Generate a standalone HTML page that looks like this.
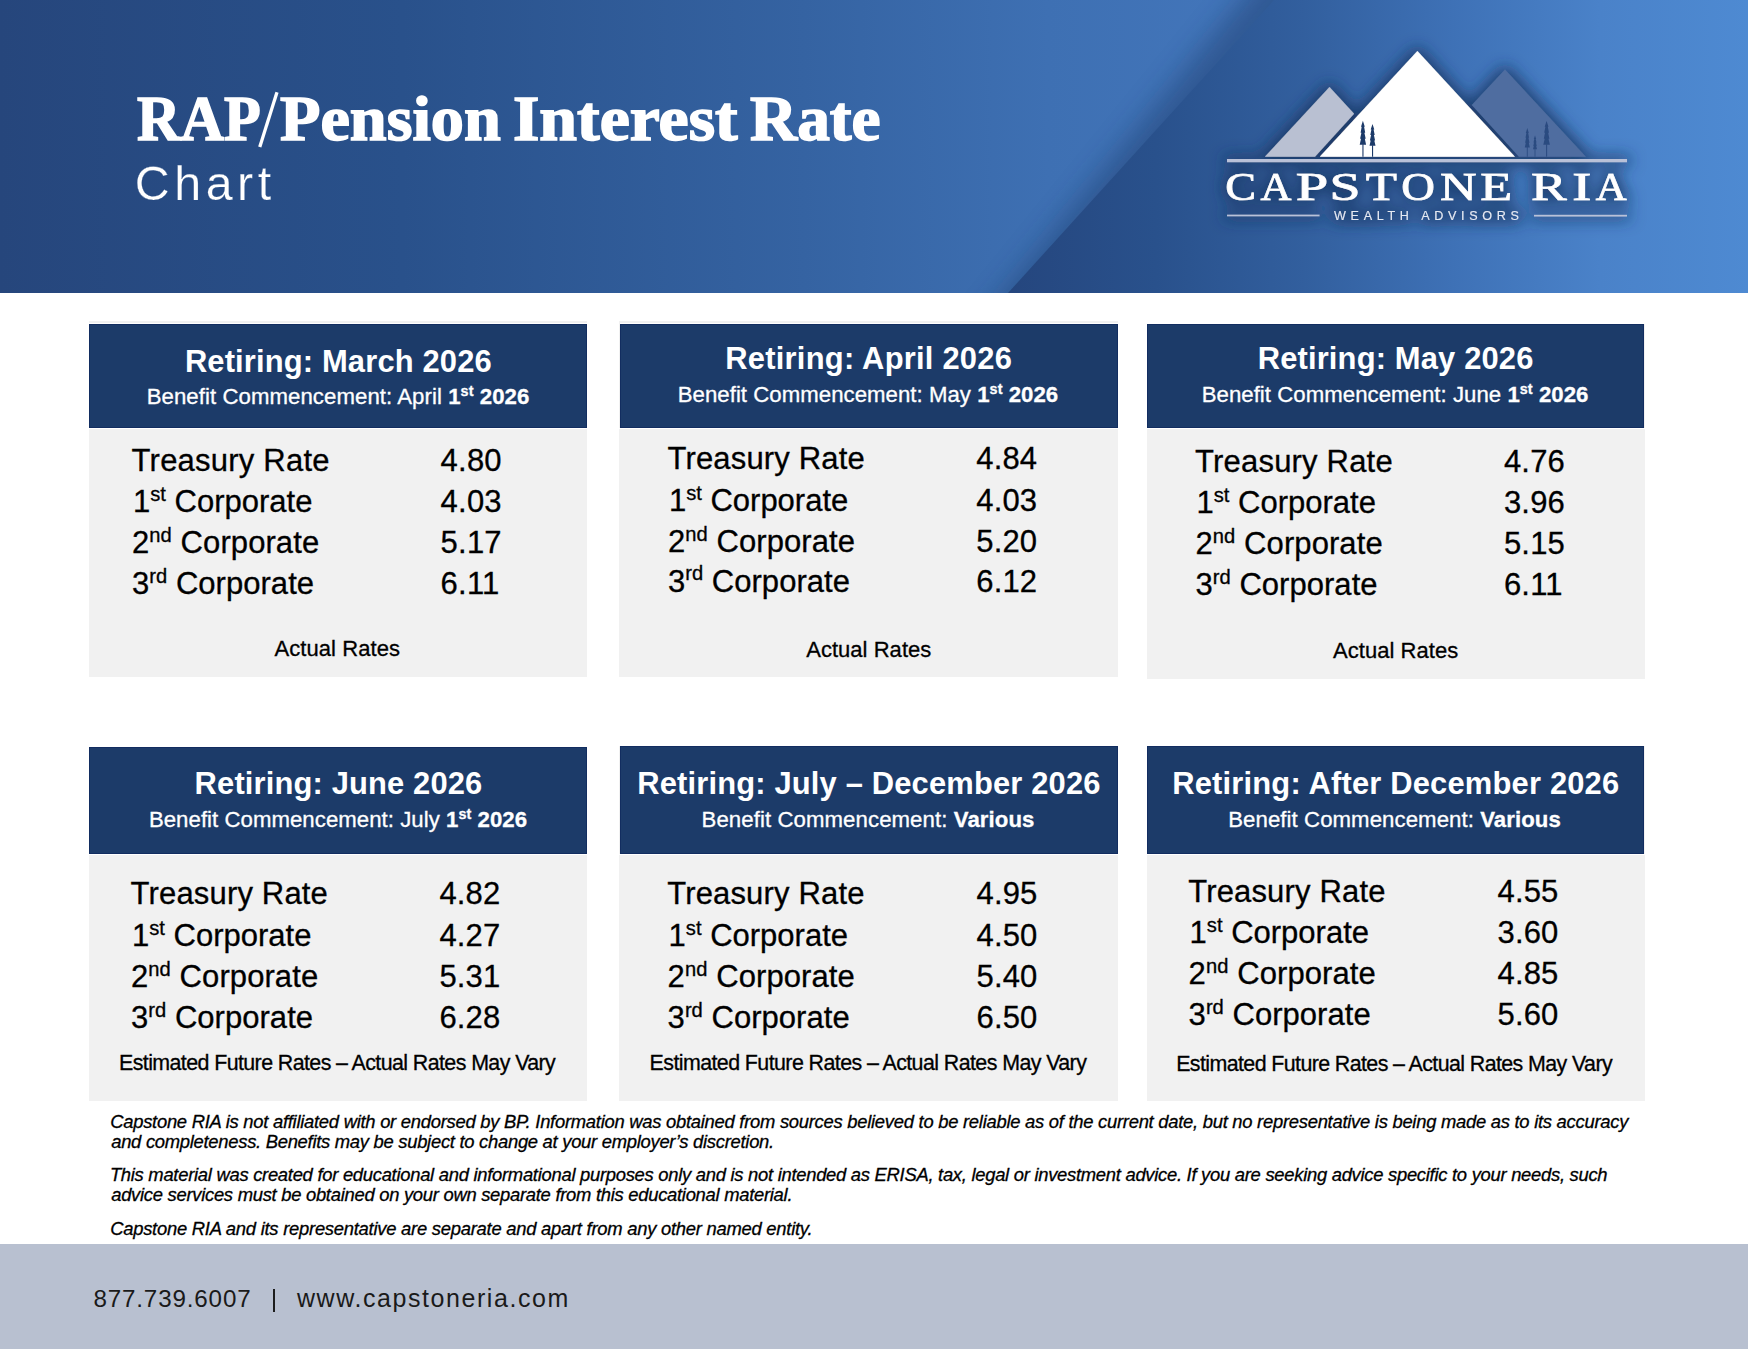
<!DOCTYPE html>
<html><head><meta charset="utf-8"><title>RAP/Pension Interest Rate Chart</title>
<style>
html,body{margin:0;padding:0;}
body{width:1748px;height:1349px;position:relative;overflow:hidden;background:#fff;font-family:"Liberation Sans",sans-serif;color:#000;}
.abs{position:absolute;}
.t{position:absolute;white-space:nowrap;margin:0;padding:0;transform-origin:0 0;-webkit-text-stroke:0.3px currentColor;}
.blue{position:absolute;background:#1c3b69;box-shadow:inset 0 0 0 1px #122d60;}
.gray{position:absolute;background:#f1f1f1;}
.wline{position:absolute;background:#fff;height:1px;}
sup{font-size:65%;vertical-align:baseline;position:relative;top:-0.55em;line-height:0;}
.ht{color:#fff;font-weight:bold;-webkit-text-stroke:0;}
.hs{color:#fff;}
.hs b{font-weight:bold;}
.disc{font-style:italic;}
.serif{font-family:"Liberation Serif",serif;}
.w{color:#fff;}
.ft{color:#1a1a1a;-webkit-text-stroke:0;}
</style></head>
<body>
<svg class="abs" style="left:0;top:0" width="1748" height="293" viewBox="0 0 1748 293">
<defs>
<linearGradient id="gL" x1="0" y1="0" x2="1748" y2="0" gradientUnits="userSpaceOnUse">
<stop offset="0" stop-color="#26467c"/><stop offset="0.23" stop-color="#29518b"/><stop offset="0.46" stop-color="#3563a2"/><stop offset="0.60" stop-color="#3e70b3"/><stop offset="0.72" stop-color="#4376bb"/><stop offset="1" stop-color="#4376bb"/>
</linearGradient>
<linearGradient id="gR" x1="1008" y1="0" x2="1748" y2="0" gradientUnits="userSpaceOnUse">
<stop offset="0" stop-color="#25467e"/><stop offset="0.2" stop-color="#29518c"/><stop offset="0.4" stop-color="#325f9e"/><stop offset="0.6" stop-color="#3e71b6"/><stop offset="0.8" stop-color="#4a82c9"/><stop offset="1" stop-color="#4e8ad2"/>
</linearGradient>
<filter id="blur14" x="-20%" y="-20%" width="140%" height="140%"><feGaussianBlur stdDeviation="14"/></filter>
<filter id="blur6" x="-20%" y="-30%" width="140%" height="160%"><feGaussianBlur stdDeviation="7"/></filter>
<filter id="glow" x="1180" y="10" width="500" height="260" filterUnits="userSpaceOnUse">
<feMorphology in="SourceAlpha" operator="dilate" radius="3" result="d"/>
<feGaussianBlur in="d" stdDeviation="7.5" result="b"/>
<feFlood flood-color="#17335f" flood-opacity="0.8" result="f"/>
<feComposite in="f" in2="b" operator="in" result="g"/>
<feMerge><feMergeNode in="g"/><feMergeNode in="SourceGraphic"/></feMerge>
</filter>
<clipPath id="hc"><rect x="0" y="0" width="1748" height="293"/></clipPath>
</defs>
<rect x="0" y="0" width="1748" height="293" fill="url(#gL)"/>
<g clip-path="url(#hc)">
<polygon points="1274,-40 1800,-40 1800,340 965,340" fill="#17325f" opacity="0.42" filter="url(#blur14)"/>
<polygon points="1274,0 1748,0 1748,293 1008,293" fill="url(#gR)"/>
<g filter="url(#glow)">
<polygon points="1264.9,156.7 1329.5,87.1 1354.1,113.8 1315,156.7" fill="#b9c0d2"/>
<polygon points="1505,69.4 1585.9,156.7 1519,156.7 1471.8,105" fill="#4f6da0"/>
<polygon points="1417.4,51.1 1514.9,156.7 1319.8,156.7" fill="#ffffff"/>
<rect x="1227" y="159" width="400" height="3.2" fill="#b9c1d8"/>
<rect x="1227" y="214.7" width="92.5" height="1.6" fill="#b9c1d8"/>
<rect x="1534" y="214.9" width="93" height="1.6" fill="#b9c1d8"/>
<polygon points="1362.9,120.7 1364.8,126.7 1364.1,126.7 1365.2,132.7 1364.4,132.7 1365.7,138.7 1364.8,138.7 1366.1,144.7 1359.7,144.7 1361.0,138.7 1360.1,138.7 1361.4,132.7 1360.6,132.7 1361.7,126.7 1361.0,126.7 1362.9,120.7" fill="#1f3a69"/><rect x="1362.4" y="144.2" width="1.1" height="12.5" fill="#1f3a69"/>
<polygon points="1372.5,124.1 1374.3,129.5 1373.6,129.5 1374.7,134.9 1373.9,134.9 1375.1,140.4 1374.3,140.4 1375.5,145.8 1369.5,145.8 1370.7,140.4 1369.9,140.4 1371.1,134.9 1370.3,134.9 1371.4,129.5 1370.7,129.5 1372.5,124.1" fill="#1f3a69"/><rect x="1372.0" y="145.3" width="1.1" height="11.4" fill="#1f3a69"/>
<polygon points="1527.3,128.1 1528.8,132.9 1528.2,132.9 1529.1,137.8 1528.5,137.8 1529.5,142.7 1528.8,142.7 1529.8,147.5 1524.8,147.5 1525.8,142.7 1525.1,142.7 1526.1,137.8 1525.5,137.8 1526.4,132.9 1525.8,132.9 1527.3,128.1" fill="#2c4b80"/><rect x="1526.8" y="147.0" width="0.9" height="9.7" fill="#2c4b80"/>
<polygon points="1535.0,135.5 1536.2,138.9 1535.7,138.9 1536.5,142.4 1536.0,142.4 1536.7,145.9 1536.2,145.9 1537.0,149.3 1533.0,149.3 1533.8,145.9 1533.3,145.9 1534.0,142.4 1533.5,142.4 1534.3,138.9 1533.8,138.9 1535.0,135.5" fill="#2c4b80"/><rect x="1534.6" y="148.8" width="0.8" height="7.9" fill="#2c4b80"/>
<polygon points="1546.6,120.9 1548.5,126.8 1547.8,126.8 1549.0,132.8 1548.2,132.8 1549.4,138.8 1548.5,138.8 1549.9,144.7 1543.3,144.7 1544.7,138.8 1543.8,138.8 1545.0,132.8 1544.2,132.8 1545.4,126.8 1544.7,126.8 1546.6,120.9" fill="#2c4b80"/><rect x="1546.1" y="144.2" width="1.0" height="12.5" fill="#2c4b80"/>
<text transform="translate(1225.16,199.6) scale(1.144,1)" font-family='"Liberation Serif", serif' font-size="40.3" fill="#fff" stroke="#fff" stroke-width="0.7">C</text>
<text transform="translate(1260.57,199.6) scale(1.063,1)" font-family='"Liberation Serif", serif' font-size="40.3" fill="#fff" stroke="#fff" stroke-width="0.7">A</text>
<text transform="translate(1295.65,199.6) scale(1.448,1)" font-family='"Liberation Serif", serif' font-size="40.3" fill="#fff" stroke="#fff" stroke-width="0.7">P</text>
<text transform="translate(1329.53,199.6) scale(1.387,1)" font-family='"Liberation Serif", serif' font-size="40.3" fill="#fff" stroke="#fff" stroke-width="0.7">S</text>
<text transform="translate(1365.81,199.6) scale(1.268,1)" font-family='"Liberation Serif", serif' font-size="40.3" fill="#fff" stroke="#fff" stroke-width="0.7">T</text>
<text transform="translate(1401.34,199.6) scale(1.155,1)" font-family='"Liberation Serif", serif' font-size="40.3" fill="#fff" stroke="#fff" stroke-width="0.7">O</text>
<text transform="translate(1439.88,199.6) scale(1.259,1)" font-family='"Liberation Serif", serif' font-size="40.3" fill="#fff" stroke="#fff" stroke-width="0.7">N</text>
<text transform="translate(1480.13,199.6) scale(1.297,1)" font-family='"Liberation Serif", serif' font-size="40.3" fill="#fff" stroke="#fff" stroke-width="0.7">E</text>
<text transform="translate(1530.99,199.6) scale(1.329,1)" font-family='"Liberation Serif", serif' font-size="40.3" fill="#fff" stroke="#fff" stroke-width="0.7">R</text>
<text transform="translate(1572.19,199.6) scale(1.427,1)" font-family='"Liberation Serif", serif' font-size="40.3" fill="#fff" stroke="#fff" stroke-width="0.7">I</text>
<text transform="translate(1595.77,199.6) scale(1.063,1)" font-family='"Liberation Serif", serif' font-size="40.3" fill="#fff" stroke="#fff" stroke-width="0.7">A</text>
<text x="1334" y="220.4" font-family='"Liberation Sans", sans-serif' font-size="12.6" fill="#e4e9f3" textLength="185" lengthAdjust="spacing">WEALTH ADVISORS</text>
</g>
</g>
<line x1="259.75" y1="146.9" x2="277.0" y2="92.2" stroke="#fff" stroke-width="3.3"/>
</svg>
<div class="abs" style="left:0;top:1244px;width:1748px;height:105px;background:#b8c0d0"></div>
<div class="gray" style="left:89px;top:321px;width:498px;height:356px"></div>
<div class="wline" style="left:89px;top:323px;width:498px"></div>
<div class="wline" style="left:89px;top:428px;width:498px"></div>
<div class="blue" style="left:89px;top:324px;width:498px;height:104px"></div>
<div class="gray" style="left:619px;top:321px;width:499px;height:356px"></div>
<div class="wline" style="left:620px;top:323px;width:498px"></div>
<div class="wline" style="left:619px;top:428px;width:499px"></div>
<div class="blue" style="left:620px;top:324px;width:498px;height:104px"></div>
<div class="gray" style="left:1147px;top:324px;width:498px;height:355px"></div>
<div class="wline" style="left:1147px;top:323px;width:497px"></div>
<div class="wline" style="left:1147px;top:428px;width:498px"></div>
<div class="blue" style="left:1147px;top:324px;width:497px;height:104px"></div>
<div class="gray" style="left:89px;top:747px;width:498px;height:354px"></div>
<div class="wline" style="left:89px;top:746px;width:498px"></div>
<div class="wline" style="left:89px;top:854px;width:498px"></div>
<div class="blue" style="left:89px;top:747px;width:498px;height:107px"></div>
<div class="gray" style="left:619px;top:746px;width:499px;height:355px"></div>
<div class="wline" style="left:620px;top:745px;width:498px"></div>
<div class="wline" style="left:619px;top:854px;width:499px"></div>
<div class="blue" style="left:620px;top:746px;width:498px;height:108px"></div>
<div class="gray" style="left:1147px;top:746px;width:498px;height:355px"></div>
<div class="wline" style="left:1147px;top:745px;width:497px"></div>
<div class="wline" style="left:1147px;top:854px;width:498px"></div>
<div class="blue" style="left:1147px;top:746px;width:497px;height:108px"></div>
<div class="abs" style="left:272.6px;top:1289px;width:2.1px;height:23px;background:#1c1c1c"></div>
<div class="t serif w" id="tw1" style="left:136.90px;top:83.03px;font-size:63.9px;line-height:72px;font-weight:bold;-webkit-text-stroke:1.6px currentColor;transform:scaleX(0.9415);">RAP</div>
<div class="t serif w" id="tw3" style="left:279.90px;top:83.03px;font-size:63.9px;line-height:72px;font-weight:bold;-webkit-text-stroke:1.6px currentColor;transform:scaleX(1.0366);">Pension</div>
<div class="t serif w" id="tw4" style="left:513.14px;top:83.03px;font-size:63.9px;line-height:72px;font-weight:bold;-webkit-text-stroke:1.6px currentColor;transform:scaleX(1.0607);">Interest</div>
<div class="t serif w" id="tw5" style="left:750.10px;top:83.03px;font-size:63.9px;line-height:72px;font-weight:bold;-webkit-text-stroke:1.6px currentColor;transform:scaleX(1.0220);">Rate</div>
<div class="t w" id="chart" style="left:134.80px;top:154.33px;font-size:48.4px;line-height:58px;letter-spacing:4.500px;-webkit-text-stroke:0.25px #284c84;">Chart</div>
<div class="t ht" id="ht0" style="left:184.90px;top:344.29px;font-size:30.9px;line-height:36px;letter-spacing:0.153px;">Retiring: March 2026</div>
<div class="t hs" id="hs0" style="left:146.70px;top:383.91px;font-size:22.2px;line-height:26px;letter-spacing:0.066px;">Benefit Commencement: April <b>1<sup>st</sup> 2026</b></div>
<div class="t " id="l00" style="left:131.60px;top:443.26px;font-size:31.0px;line-height:36px;letter-spacing:0.217px;">Treasury Rate</div>
<div class="t " id="v00" style="left:440.60px;top:443.26px;font-size:31.0px;line-height:36px;letter-spacing:0.217px;">4.80</div>
<div class="t " id="l01" style="left:133.00px;top:484.16px;font-size:31.0px;line-height:36px;">1<sup>st</sup> Corporate</div>
<div class="t " id="v01" style="left:440.60px;top:484.16px;font-size:31.0px;line-height:36px;letter-spacing:0.217px;">4.03</div>
<div class="t " id="l02" style="left:132.00px;top:525.16px;font-size:31.0px;line-height:36px;letter-spacing:0.083px;">2<sup>nd</sup> Corporate</div>
<div class="t " id="v02" style="left:440.60px;top:525.16px;font-size:31.0px;line-height:36px;letter-spacing:0.217px;">5.17</div>
<div class="t " id="l03" style="left:132.00px;top:566.06px;font-size:31.0px;line-height:36px;letter-spacing:0.033px;">3<sup>rd</sup> Corporate</div>
<div class="t " id="v03" style="left:440.60px;top:566.06px;font-size:31.0px;line-height:36px;letter-spacing:0.217px;">6.11</div>
<div class="t " id="f0" style="left:274.50px;top:636.18px;font-size:22.0px;line-height:26px;letter-spacing:0.064px;">Actual Rates</div>
<div class="t ht" id="ht1" style="left:725.30px;top:341.09px;font-size:30.9px;line-height:36px;letter-spacing:0.237px;">Retiring: April 2026</div>
<div class="t hs" id="hs1" style="left:677.70px;top:382.11px;font-size:22.2px;line-height:26px;letter-spacing:0.042px;">Benefit Commencement: May <b>1<sup>st</sup> 2026</b></div>
<div class="t " id="l10" style="left:667.50px;top:441.16px;font-size:31.0px;line-height:36px;letter-spacing:0.158px;">Treasury Rate</div>
<div class="t " id="v10" style="left:976.30px;top:441.16px;font-size:31.0px;line-height:36px;letter-spacing:0.158px;">4.84</div>
<div class="t " id="l11" style="left:668.90px;top:483.06px;font-size:31.0px;line-height:36px;">1<sup>st</sup> Corporate</div>
<div class="t " id="v11" style="left:976.30px;top:483.06px;font-size:31.0px;line-height:36px;letter-spacing:0.158px;">4.03</div>
<div class="t " id="l12" style="left:667.90px;top:523.86px;font-size:31.0px;line-height:36px;letter-spacing:0.083px;">2<sup>nd</sup> Corporate</div>
<div class="t " id="v12" style="left:976.30px;top:523.86px;font-size:31.0px;line-height:36px;letter-spacing:0.158px;">5.20</div>
<div class="t " id="l13" style="left:667.90px;top:563.56px;font-size:31.0px;line-height:36px;letter-spacing:0.033px;">3<sup>rd</sup> Corporate</div>
<div class="t " id="v13" style="left:976.30px;top:563.56px;font-size:31.0px;line-height:36px;letter-spacing:0.158px;">6.12</div>
<div class="t " id="f1" style="left:806.20px;top:636.88px;font-size:22.0px;line-height:26px;letter-spacing:0.036px;">Actual Rates</div>
<div class="t ht" id="ht2" style="left:1257.70px;top:341.09px;font-size:30.9px;line-height:36px;letter-spacing:0.159px;">Retiring: May 2026</div>
<div class="t hs" id="hs2" style="left:1201.70px;top:382.11px;font-size:22.2px;line-height:26px;letter-spacing:0.041px;">Benefit Commencement: June <b>1<sup>st</sup> 2026</b></div>
<div class="t " id="l20" style="left:1195.10px;top:444.26px;font-size:31.0px;line-height:36px;letter-spacing:0.192px;">Treasury Rate</div>
<div class="t " id="v20" style="left:1503.90px;top:444.26px;font-size:31.0px;line-height:36px;letter-spacing:0.192px;">4.76</div>
<div class="t " id="l21" style="left:1196.50px;top:485.26px;font-size:31.0px;line-height:36px;">1<sup>st</sup> Corporate</div>
<div class="t " id="v21" style="left:1503.90px;top:485.26px;font-size:31.0px;line-height:36px;letter-spacing:0.192px;">3.96</div>
<div class="t " id="l22" style="left:1195.50px;top:526.16px;font-size:31.0px;line-height:36px;letter-spacing:0.083px;">2<sup>nd</sup> Corporate</div>
<div class="t " id="v22" style="left:1503.90px;top:526.16px;font-size:31.0px;line-height:36px;letter-spacing:0.192px;">5.15</div>
<div class="t " id="l23" style="left:1195.50px;top:567.46px;font-size:31.0px;line-height:36px;letter-spacing:0.033px;">3<sup>rd</sup> Corporate</div>
<div class="t " id="v23" style="left:1503.90px;top:567.46px;font-size:31.0px;line-height:36px;letter-spacing:0.192px;">6.11</div>
<div class="t " id="f2" style="left:1333.00px;top:638.28px;font-size:22.0px;line-height:26px;letter-spacing:0.045px;">Actual Rates</div>
<div class="t ht" id="ht3" style="left:194.60px;top:765.99px;font-size:30.9px;line-height:36px;letter-spacing:0.150px;">Retiring: June 2026</div>
<div class="t hs" id="hs3" style="left:148.90px;top:807.11px;font-size:22.2px;line-height:26px;letter-spacing:0.044px;">Benefit Commencement: July <b>1<sup>st</sup> 2026</b></div>
<div class="t " id="l30" style="left:130.60px;top:876.46px;font-size:31.0px;line-height:36px;letter-spacing:0.167px;">Treasury Rate</div>
<div class="t " id="v30" style="left:439.40px;top:876.46px;font-size:31.0px;line-height:36px;letter-spacing:0.167px;">4.82</div>
<div class="t " id="l31" style="left:132.00px;top:918.16px;font-size:31.0px;line-height:36px;">1<sup>st</sup> Corporate</div>
<div class="t " id="v31" style="left:439.40px;top:918.16px;font-size:31.0px;line-height:36px;letter-spacing:0.167px;">4.27</div>
<div class="t " id="l32" style="left:131.00px;top:959.06px;font-size:31.0px;line-height:36px;letter-spacing:0.083px;">2<sup>nd</sup> Corporate</div>
<div class="t " id="v32" style="left:439.40px;top:959.06px;font-size:31.0px;line-height:36px;letter-spacing:0.167px;">5.31</div>
<div class="t " id="l33" style="left:131.00px;top:1000.06px;font-size:31.0px;line-height:36px;letter-spacing:0.033px;">3<sup>rd</sup> Corporate</div>
<div class="t " id="v33" style="left:439.40px;top:1000.06px;font-size:31.0px;line-height:36px;letter-spacing:0.167px;">6.28</div>
<div class="t " id="f3" style="left:119.00px;top:1049.58px;font-size:21.4px;line-height:26px;letter-spacing:-0.589px;">Estimated Future Rates &ndash; Actual Rates May Vary</div>
<div class="t ht" id="ht4" style="left:637.20px;top:765.99px;font-size:30.9px;line-height:36px;letter-spacing:0.169px;">Retiring: July &ndash; December 2026</div>
<div class="t hs" id="hs4" style="left:701.50px;top:806.91px;font-size:22.2px;line-height:26px;letter-spacing:0.086px;">Benefit Commencement: <b>Various</b></div>
<div class="t " id="l40" style="left:667.20px;top:876.46px;font-size:31.0px;line-height:36px;letter-spacing:0.167px;">Treasury Rate</div>
<div class="t " id="v40" style="left:976.50px;top:876.46px;font-size:31.0px;line-height:36px;letter-spacing:0.167px;">4.95</div>
<div class="t " id="l41" style="left:668.60px;top:918.16px;font-size:31.0px;line-height:36px;">1<sup>st</sup> Corporate</div>
<div class="t " id="v41" style="left:976.50px;top:918.16px;font-size:31.0px;line-height:36px;letter-spacing:0.167px;">4.50</div>
<div class="t " id="l42" style="left:667.60px;top:959.06px;font-size:31.0px;line-height:36px;letter-spacing:0.083px;">2<sup>nd</sup> Corporate</div>
<div class="t " id="v42" style="left:976.50px;top:959.06px;font-size:31.0px;line-height:36px;letter-spacing:0.167px;">5.40</div>
<div class="t " id="l43" style="left:667.60px;top:1000.06px;font-size:31.0px;line-height:36px;letter-spacing:0.033px;">3<sup>rd</sup> Corporate</div>
<div class="t " id="v43" style="left:976.50px;top:1000.06px;font-size:31.0px;line-height:36px;letter-spacing:0.167px;">6.50</div>
<div class="t " id="f4" style="left:649.60px;top:1049.58px;font-size:21.4px;line-height:26px;letter-spacing:-0.578px;">Estimated Future Rates &ndash; Actual Rates May Vary</div>
<div class="t ht" id="ht5" style="left:1172.20px;top:765.99px;font-size:30.9px;line-height:36px;letter-spacing:0.186px;">Retiring: After December 2026</div>
<div class="t hs" id="hs5" style="left:1228.20px;top:806.91px;font-size:22.2px;line-height:26px;letter-spacing:0.075px;">Benefit Commencement: <b>Various</b></div>
<div class="t " id="l50" style="left:1188.20px;top:874.26px;font-size:31.0px;line-height:36px;letter-spacing:0.167px;">Treasury Rate</div>
<div class="t " id="v50" style="left:1497.50px;top:874.26px;font-size:31.0px;line-height:36px;letter-spacing:0.167px;">4.55</div>
<div class="t " id="l51" style="left:1189.60px;top:915.26px;font-size:31.0px;line-height:36px;">1<sup>st</sup> Corporate</div>
<div class="t " id="v51" style="left:1497.50px;top:915.26px;font-size:31.0px;line-height:36px;letter-spacing:0.167px;">3.60</div>
<div class="t " id="l52" style="left:1188.60px;top:956.16px;font-size:31.0px;line-height:36px;letter-spacing:0.083px;">2<sup>nd</sup> Corporate</div>
<div class="t " id="v52" style="left:1497.50px;top:956.16px;font-size:31.0px;line-height:36px;letter-spacing:0.167px;">4.85</div>
<div class="t " id="l53" style="left:1188.60px;top:996.96px;font-size:31.0px;line-height:36px;letter-spacing:0.033px;">3<sup>rd</sup> Corporate</div>
<div class="t " id="v53" style="left:1497.50px;top:996.96px;font-size:31.0px;line-height:36px;letter-spacing:0.167px;">5.60</div>
<div class="t " id="f5" style="left:1176.20px;top:1051.38px;font-size:21.4px;line-height:26px;letter-spacing:-0.596px;">Estimated Future Rates &ndash; Actual Rates May Vary</div>
<div class="t disc" id="d0" style="left:110.20px;top:1111.62px;font-size:18.4px;line-height:20px;letter-spacing:-0.263px;">Capstone RIA is not affiliated with or endorsed by BP. Information was obtained from sources believed to be reliable as of the current date, but no representative is being made as to its accuracy</div>
<div class="t disc" id="d1" style="left:111.20px;top:1132.42px;font-size:18.4px;line-height:20px;letter-spacing:-0.275px;">and completeness. Benefits may be subject to change at your employer&rsquo;s discretion.</div>
<div class="t disc" id="d2" style="left:109.90px;top:1165.42px;font-size:18.4px;line-height:20px;letter-spacing:-0.274px;">This material was created for educational and informational purposes only and is not intended as ERISA, tax, legal or investment advice. If you are seeking advice specific to your needs, such</div>
<div class="t disc" id="d3" style="left:111.20px;top:1185.42px;font-size:18.4px;line-height:20px;letter-spacing:-0.274px;">advice services must be obtained on your own separate from this educational material.</div>
<div class="t disc" id="d4" style="left:110.20px;top:1219.42px;font-size:18.4px;line-height:20px;letter-spacing:-0.249px;">Capstone RIA and its representative are separate and apart from any other named entity.</div>
<div class="t ft" id="ph" style="left:93.40px;top:1283.71px;font-size:24.2px;line-height:30px;letter-spacing:0.847px;">877.739.6007</div>
<div class="t ft" id="web" style="left:297.00px;top:1283.44px;font-size:25px;line-height:30px;letter-spacing:1.562px;">www.capstoneria.com</div>
</body></html>
